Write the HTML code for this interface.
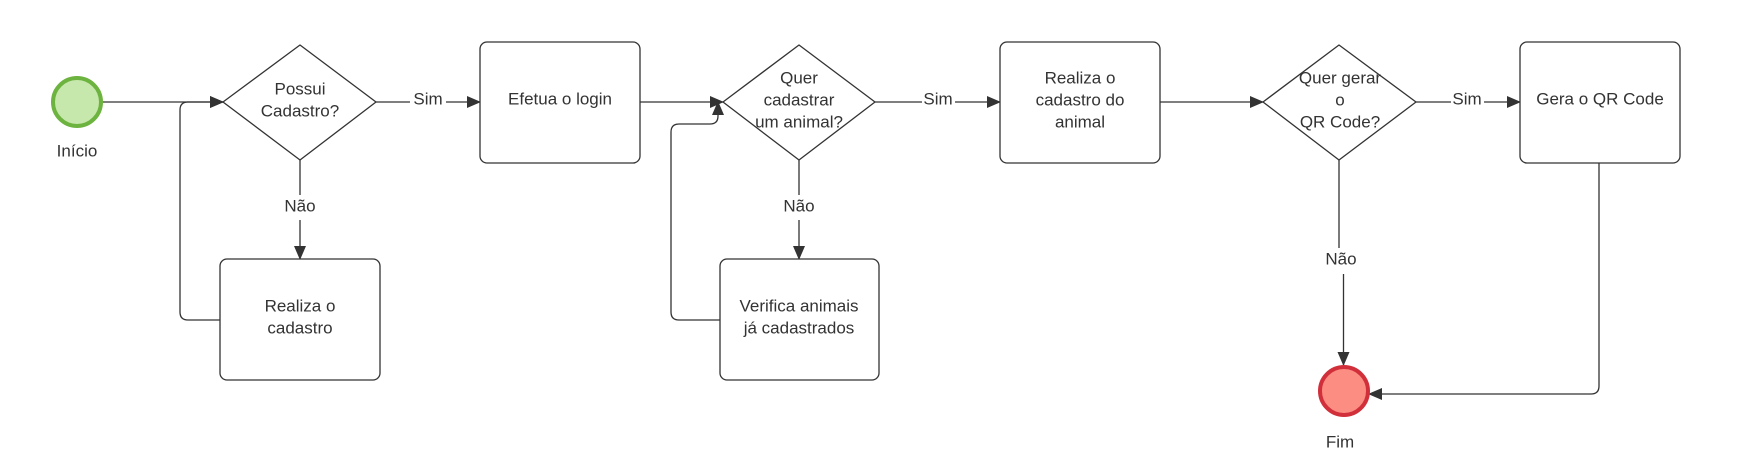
<!DOCTYPE html>
<html><head><meta charset="utf-8"><style>
html,body{margin:0;padding:0;background:#fff;}
svg{display:block;}
text{font-family:"Liberation Sans",Arial,sans-serif;font-size:17px;fill:#333;text-anchor:middle;dominant-baseline:middle;}
</style></head><body>
<svg width="1760" height="476" viewBox="0 0 1760 476" xmlns="http://www.w3.org/2000/svg">
<defs>
<marker id="a" markerWidth="14" markerHeight="12" refX="13" refY="6" orient="auto" markerUnits="userSpaceOnUse">
<path d="M0,0 L14,6 L0,12 z" fill="#333"/>
</marker>
</defs>
<g fill="none" stroke="#333" stroke-width="1.3">
<!-- start -> d1 -->
<path d="M103,102 H223" marker-end="url(#a)"/>
<!-- d1 -> login -->
<path d="M376,102 H410"/><path d="M446,102 H480" marker-end="url(#a)"/>
<!-- d1 -> realiza -->
<path d="M300,160 V195"/><path d="M300,220 V259" marker-end="url(#a)"/>
<!-- loop 1 -->
<path d="M220,320 H188 Q180,320 180,312 V110 Q180,102 188,102 H223" marker-end="url(#a)"/>
<!-- login -> d2 -->
<path d="M640,102 H723" marker-end="url(#a)"/>
<!-- d2 -> verifica -->
<path d="M799,160 V195"/><path d="M799,220 V259" marker-end="url(#a)"/>
<!-- loop 2 -->
<path d="M720,320 H679 Q671,320 671,312 V132 Q671,124 679,124 H710 Q718,124 718,116 V102" marker-end="url(#a)"/>
<!-- d2 -> realiza animal -->
<path d="M875,102 H922"/><path d="M955,102 H1000" marker-end="url(#a)"/>
<!-- realiza animal -> d3 -->
<path d="M1160,102 H1263" marker-end="url(#a)"/>
<!-- d3 -> gera -->
<path d="M1416,102 H1451"/><path d="M1484,102 H1520" marker-end="url(#a)"/>
<!-- d3 -> fim -->
<path d="M1339,160 V248"/><path d="M1343.5,274 V365" marker-end="url(#a)"/>
<!-- gera -> fim -->
<path d="M1599,163 V386 Q1599,394 1591,394 H1369" marker-end="url(#a)"/>
</g>
<!-- shapes -->
<circle cx="77" cy="102" r="24" fill="#c7e8ac" stroke="#6db33f" stroke-width="4"/>
<circle cx="1344" cy="391" r="24" fill="#fc8d82" stroke="#d1303b" stroke-width="4"/>
<g fill="#fff" stroke="#333" stroke-width="1.3">
<path d="M300,45 L376,102 L300,160 L223,102 Z" stroke-linejoin="round"/>
<path d="M799,45 L875,102 L799,160 L723,102 Z" stroke-linejoin="round"/>
<path d="M1339,45 L1416,102 L1339,160 L1263,102 Z" stroke-linejoin="round"/>
<rect x="480" y="42" width="160" height="121" rx="7"/>
<rect x="220" y="259" width="160" height="121" rx="7"/>
<rect x="720" y="259" width="159" height="121" rx="7"/>
<rect x="1000" y="42" width="160" height="121" rx="7"/>
<rect x="1520" y="42" width="160" height="121" rx="7"/>
</g>
<!-- labels -->
<text x="77" y="152">Início</text>
<text x="1340" y="443">Fim</text>
<text x="300" y="90">Possui</text><text x="300" y="112">Cadastro?</text>
<text x="560" y="100">Efetua o login</text>
<text x="300" y="307">Realiza o</text><text x="300" y="329">cadastro</text>
<text x="799" y="79">Quer</text><text x="799" y="101">cadastrar</text><text x="799" y="123">um animal?</text>
<text x="799" y="307">Verifica animais</text><text x="799" y="329">já cadastrados</text>
<text x="1080" y="79">Realiza o</text><text x="1080" y="101">cadastro do</text><text x="1080" y="123">animal</text>
<text x="1340" y="79">Quer gerar</text><text x="1340" y="101">o</text><text x="1340" y="123">QR Code?</text>
<text x="1600" y="100">Gera o QR Code</text>
<text x="428" y="100">Sim</text>
<text x="938" y="100">Sim</text>
<text x="1467" y="100">Sim</text>
<text x="300" y="207">Não</text>
<text x="799" y="207">Não</text>
<text x="1341" y="260">Não</text>
</svg>
</body></html>
